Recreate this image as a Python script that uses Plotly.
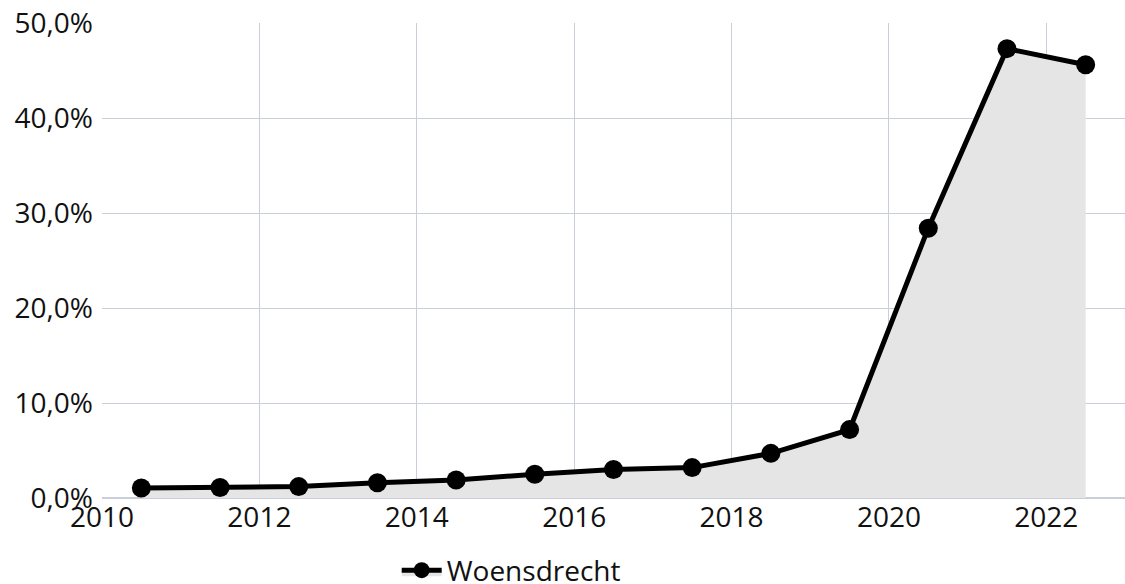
import plotly.graph_objects as go

years = [2010.5, 2011.5, 2012.5, 2013.5, 2014.5, 2015.5, 2016.5, 2017.5, 2018.5, 2019.5, 2020.5, 2021.5, 2022.5]
values = [1.05, 1.1, 1.2, 1.6, 1.9, 2.5, 3.0, 3.2, 4.7, 7.2, 28.4, 47.3, 45.6]
series_name = "Woensdrecht"
x_ticks = [2010, 2012, 2014, 2016, 2018, 2020, 2022]
y_ticks = [0, 10, 20, 30, 40, 50]
y_tick_labels = ["0,0%", "10,0%", "20,0%", "30,0%", "40,0%", "50,0%"]

fig = go.Figure()
fig.add_trace(go.Scatter(
    x=years, y=values, name=series_name, mode="lines+markers",
    fill="tozeroy", fillcolor="#e5e5e5",
    line=dict(color="#000000", width=5),
    marker=dict(color="#000000", size=19),
))

font_family = "Open Sans, Noto Sans, sans-serif"
fig.update_layout(
    width=1125, height=584,
    margin=dict(l=102, r=0, t=23, b=86, autoexpand=False),
    paper_bgcolor="white", plot_bgcolor="white",
    separators=",.",
    font=dict(family=font_family, size=28, color="#111111"),
    showlegend=True,
    legend=dict(orientation="h", x=0.40, xanchor="center", y=-0.1, yanchor="top",
                font=dict(size=28), itemwidth=40),
    xaxis=dict(range=[2010, 2023], tickvals=x_ticks, ticktext=[str(t) for t in x_ticks],
               showgrid=True, gridcolor="#c9ced8", gridwidth=1, zeroline=False,
               showline=False, ticks="", ticklabelstandoff=0, automargin=False,
               ticklabeloverflow="allow"),
    yaxis=dict(range=[0, 50], tickvals=y_ticks, ticktext=y_tick_labels,
               showgrid=True, gridcolor="#c9ced8", gridwidth=1, zeroline=True,
               zerolinecolor="#c9ced8", showline=False, ticks="", automargin=False,
               ticklabelstandoff=8, ticklabeloverflow="allow"),
)
fig.write_html("out.html", config={"displayModeBar": False},
               post_script="document.body.style.margin='0';document.body.style.overflow='hidden';")
